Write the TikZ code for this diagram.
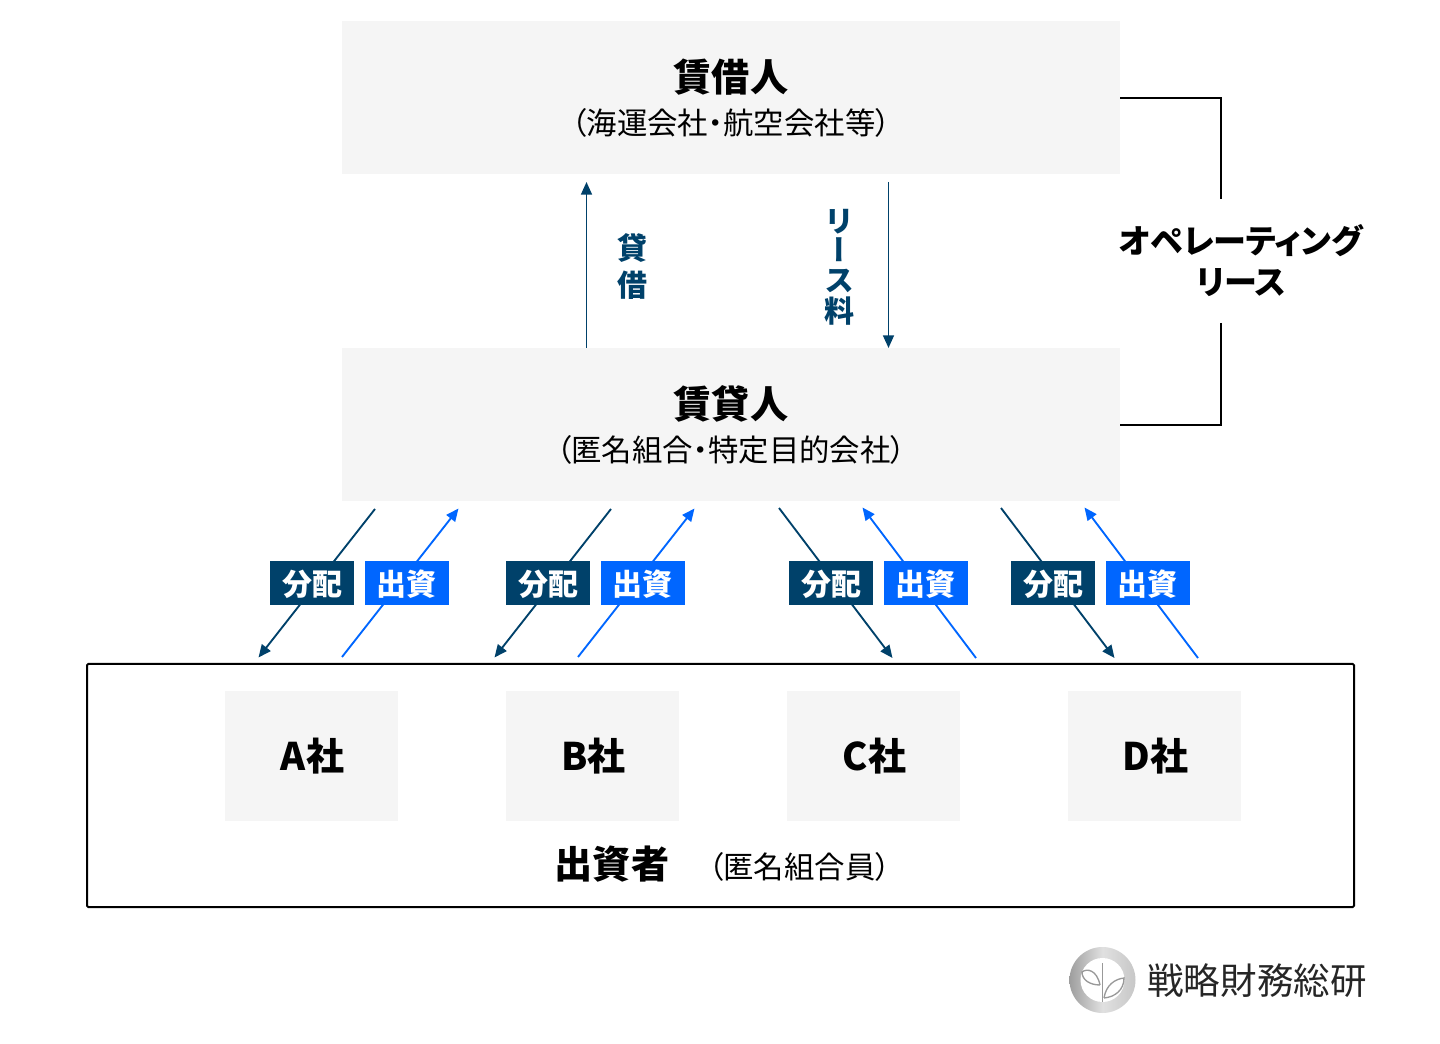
\documentclass[tikz,border=0pt]{standalone}
\usepackage{fontspec}
\usetikzlibrary{arrows.meta}
\setmainfont[RawFeature=+palt]{Noto Sans CJK JP}
\newfontfamily\vertfont[RawFeature=+vert]{Noto Sans CJK JP}
\definecolor{navy}{HTML}{00416A}
\definecolor{brightblue}{HTML}{0066FF}
\definecolor{panel}{HTML}{F5F5F5}
\tikzset{
  bigbox/.style={fill=panel,minimum width=583.5pt,minimum height=114.75pt,inner sep=0pt},
  firm/.style={fill=panel,minimum width=129.75pt,minimum height=97.5pt,inner sep=0pt},
  firmtext/.style={inner sep=0pt,font=\bfseries\fontsize{28.5}{30}\selectfont},
  title/.style={inner sep=0pt,font=\bfseries\fontsize{28.6}{30}\selectfont},
  sub/.style={inner sep=0pt,font=\fontsize{22.8}{26}\selectfont},
  tag/.style={minimum width=63pt,minimum height=33pt,inner sep=0pt},
  tagtext/.style={inner sep=0pt,text=white,font=\bfseries\fontsize{22.5}{24}\selectfont},
  dist/.style={tag,fill=navy},
  inv/.style={tag,fill=brightblue},
  darrow/.style={navy,line width=1.4pt,-{Triangle[length=9.5pt,width=8.2pt]}},
  barrow/.style={brightblue,line width=1.4pt,-{Triangle[length=9.5pt,width=8.2pt]}},
  bracket/.style={black,line width=1.3pt},
  vlabel/.style={inner sep=0pt,text=navy,font=\vertfont\bfseries\fontsize{22.5}{24}\selectfont}
}
\begin{document}
\begin{tikzpicture}[x=0.75pt,y=-0.75pt]
\useasboundingbox (0,0) rectangle (1440,1044);
% main boxes
\node[bigbox] (lessee) at (731,97.5) {};
\node[bigbox] (lessor) at (731,424.5) {};
\node[title] (lesseeT) at (731,77) {賃借人};
\node[sub] (lesseeS) at (731,123) {（海運会社・航空会社等）};
\node[title] (lessorT) at (731,404) {賃貸人};
\node[sub] (lessorS) at (731,450) {（匿名組合・特定目的会社）};
% investor frame
\node[draw=black,line width=1.5pt,rounded corners=1pt,minimum width=950.25pt,minimum height=182.25pt,inner sep=0pt] (frame) at (720.5,785.5) {};
\node[firm] (a) at (311.5,756) {};
\node[firm] (b) at (592.5,756) {};
\node[firm] (c) at (873.5,756) {};
\node[firm] (d) at (1154.5,756) {};
\node[firmtext] (at) at (312.5,756) {A社};
\node[firmtext] (bt) at (593.5,756) {B社};
\node[firmtext] (ct) at (874.5,756) {C社};
\node[firmtext] (dt) at (1155.5,756) {D社};
\node[title] (invT) at (612,864.5) {出資者};
\node[sub] (invS) at (799.5,866.5) {（匿名組合員）};
% lease arrows
\coordinate (l1s) at (586.5,348); \coordinate (l1e) at (586.5,182);
\coordinate (l2s) at (888.5,182); \coordinate (l2e) at (888.5,348);
\draw[darrow] (l1s) -- (l1e);
\draw[darrow] (l2s) -- (l2e);
\node[vlabel] (k1) at (632,248) {貸};
\node[vlabel] (k2) at (632,285) {借};
\node[vlabel] (r1) at (839.5,222) {リ};
\node[vlabel] (r2) at (839.5,250) {ー};
\node[vlabel] (r3) at (839.5,281) {ス};
\node[vlabel] (r4) at (839.5,311) {料};
% operating lease bracket
\coordinate (b1) at (1120,98); \coordinate (b2) at (1221,98); \coordinate (b3) at (1221,199.5);
\coordinate (b4) at (1221,323); \coordinate (b5) at (1221,425); \coordinate (b6) at (1120,425);
\draw[bracket] (b1) -- (b2) -- (b3);
\draw[bracket] (b4) -- (b5) -- (b6);
\node[inner sep=0pt,align=center,font=\bfseries\fontsize{24.8}{30.5}\selectfont] (op) at (1241,260.5) {オペレーティング\\リース};
% flows
\coordinate (a1) at (375,509); \coordinate (a2) at (258.5,657.5);
\coordinate (a3) at (342,657); \coordinate (a4) at (458.5,508.5);
\coordinate (b7) at (611,509); \coordinate (b8) at (494.5,657.5);
\coordinate (b9) at (578,657); \coordinate (b10) at (694.5,508.5);
\coordinate (c1) at (779,508); \coordinate (c2) at (892.5,658);
\coordinate (c3) at (976,658); \coordinate (c4) at (862.5,507.5);
\coordinate (d1) at (1001,508); \coordinate (d2) at (1114.5,658);
\coordinate (d3) at (1198,658); \coordinate (d4) at (1084.5,507.5);
\draw[darrow] (a1) -- (a2); \draw[barrow] (a3) -- (a4);
\draw[darrow] (b7) -- (b8); \draw[barrow] (b9) -- (b10);
\draw[darrow] (c1) -- (c2); \draw[barrow] (c3) -- (c4);
\draw[darrow] (d1) -- (d2); \draw[barrow] (d3) -- (d4);
\node[dist] (ad) at (312,583) {};
\node[inv] (ai) at (407,583) {};
\node[dist] (bd) at (548,583) {};
\node[inv] (bi) at (643,583) {};
\node[dist] (cd) at (831,583) {};
\node[inv] (ci) at (926,583) {};
\node[dist] (dd) at (1053,583) {};
\node[inv] (di) at (1148,583) {};
\node[tagtext] (adt) at (312,584) {分配};
\node[tagtext] (ait) at (406.5,584) {出資};
\node[tagtext] (bdt) at (548,584) {分配};
\node[tagtext] (bit) at (642.5,584) {出資};
\node[tagtext] (cdt) at (831,584) {分配};
\node[tagtext] (cit) at (925.5,584) {出資};
\node[tagtext] (ddt) at (1053,584) {分配};
\node[tagtext] (dit) at (1147.5,584) {出資};
% logo
\shade[left color=black!38,right color=black!22,middle color=black!12] (1102.5,980) circle[radius=33];
\fill[white] (1102.5,980) circle[radius=22];
\draw[black!40,line width=1pt] (1102.5,963) -- (1102.5,1002);
\draw[black!40,line width=1pt] (1100,985) .. controls (1097,970) and (1087,968) .. (1082,972) .. controls (1082,980) and (1090,985) .. (1100,985);
\draw[black!40,line width=1pt] (1104,998) .. controls (1106,985) and (1115,979) .. (1124,978) .. controls (1124,990) and (1115,997) .. (1104,998);
\node[inner sep=0pt,text=black!85,font=\fontsize{27.4}{29}\selectfont] (logo) at (1257,981) {戦略財務総研};
\end{tikzpicture}
\end{document}
